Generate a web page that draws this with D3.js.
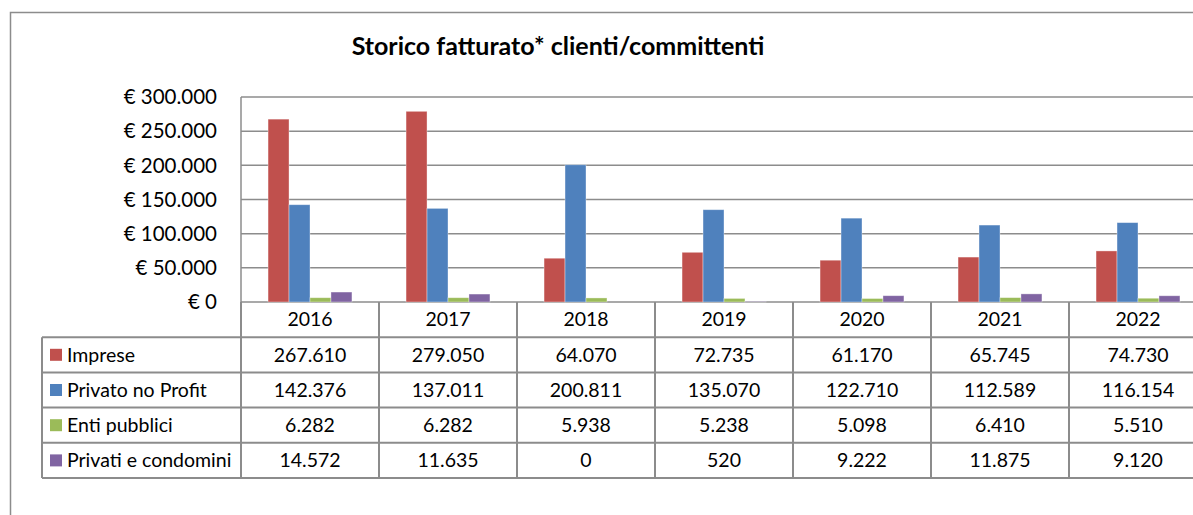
<!DOCTYPE html>
<html>
<head>
<meta charset="utf-8">
<script src="https://cdn.jsdelivr.net/npm/d3@7"></script>
<style>
  body { margin: 0; background: #fff; }
  svg { display: block; font-family: Lato, "Liberation Sans", sans-serif; }
</style>
</head>
<body>
<div id="chart"></div>
<script>
const years = ['2016', '2017', '2018', '2019', '2020', '2021', '2022']
const seriesNames = ['Imprese', 'Privato no Profit', 'Enti pubblici', 'Privati e condomini']
const imprese = [267610, 279050, 64070, 72735, 61170, 65745, 74730]
const privatoNoProfit = [142376, 137011, 200811, 135070, 122710, 112589, 116154]
const entiPubblici = [6282, 6282, 5938, 5238, 5098, 6410, 5510]
const privatiCondomini = [14572, 11635, 0, 520, 9222, 11875, 9120]
const yTicks = [0, 50000, 100000, 150000, 200000, 250000, 300000]

const seriesValues = [imprese, privatoNoProfit, entiPubblici, privatiCondomini]
const colors = ['#C0504D', '#4F81BD', '#9BBB59', '#8064A2']

const width = 1193, height = 515
const plotLeft = 241, plotTop = 97, plotBottom = 302
const colW = 138
const rowH = 35.2
const tableLeft = 42
const gridColor = '#8c8c8c'
const tableFont = 19.5

const it = d3.formatLocale({ decimal: ',', thousands: '.', grouping: [3], currency: ['€ ', ''] })
const fmt = it.format(',d')

const svg = d3.select('#chart').append('svg')
    .attr('width', width)
    .attr('height', height)

// outer chart frame
svg.append('rect')
    .attr('x', 10.5).attr('y', 12.5)
    .attr('width', 1300).attr('height', 600)
    .attr('fill', 'none')
    .attr('stroke', '#8c8c8c')
    .attr('stroke-width', 1.5)

svg.append('text')
    .attr('x', 558).attr('y', 55)
    .attr('text-anchor', 'middle')
    .attr('font-size', 25)
    .attr('font-weight', 'bold')
    .text('Storico fatturato* clienti/committenti')

const x = d3.scaleBand()
    .domain(years)
    .range([plotLeft, plotLeft + colW * years.length])

const xInner = d3.scaleBand()
    .domain(d3.range(seriesNames.length))
    .range([0, x.bandwidth()])
    .paddingOuter(1.29)

const y = d3.scaleLinear()
    .domain([0, 300000])
    .range([plotBottom, plotTop])

// gridlines
svg.append('g')
    .selectAll('line')
    .data(yTicks)
    .join('line')
    .attr('x1', plotLeft).attr('x2', width + 20)
    .attr('y1', d => y(d)).attr('y2', d => y(d))
    .attr('stroke', gridColor)
    .attr('stroke-width', 1.5)

svg.append('line')
    .attr('x1', plotLeft).attr('x2', plotLeft)
    .attr('y1', plotTop).attr('y2', plotBottom)
    .attr('stroke', gridColor)
    .attr('stroke-width', 1.5)

// y labels
svg.append('g')
    .selectAll('text')
    .data(yTicks)
    .join('text')
    .attr('x', 217)
    .attr('y', d => y(d))
    .attr('dy', '0.35em')
    .attr('text-anchor', 'end')
    .attr('font-size', 20.5)
    .text(d => '€ ' + fmt(d))

// bars
const groups = svg.append('g')
    .selectAll('g')
    .data(seriesValues)
    .join('g')
    .attr('fill', (d, i) => colors[i])

groups.each(function (vals, si) {
    d3.select(this).selectAll('rect')
        .data(vals)
        .join('rect')
        .attr('x', (d, i) => x(years[i]) + xInner(si))
        .attr('width', xInner.bandwidth())
        .attr('y', d => y(d))
        .attr('height', d => y(0) - y(d))
        .attr('stroke', 'rgba(255,255,255,0.45)')
        .attr('stroke-width', 0.8)
})

// data table
const table = svg.append('g')
const rowY = i => plotBottom + rowH * i   // row 0 = year header
const tableRight = plotLeft + colW * years.length

// horizontal lines
table.selectAll('line.h')
    .data(d3.range(1, seriesNames.length + 2))
    .join('line')
    .attr('class', 'h')
    .attr('x1', tableLeft).attr('x2', tableRight)
    .attr('y1', d => rowY(d)).attr('y2', d => rowY(d))
    .attr('stroke', gridColor)
    .attr('stroke-width', 2)

// vertical lines
table.selectAll('line.v')
    .data(d3.range(years.length + 1))
    .join('line')
    .attr('class', 'v')
    .attr('x1', d => plotLeft + d * colW).attr('x2', d => plotLeft + d * colW)
    .attr('y1', plotBottom).attr('y2', rowY(seriesNames.length + 1))
    .attr('stroke', gridColor)
    .attr('stroke-width', 2)

table.append('line')
    .attr('x1', tableLeft).attr('x2', tableLeft)
    .attr('y1', rowY(1)).attr('y2', rowY(seriesNames.length + 1))
    .attr('stroke', gridColor)
    .attr('stroke-width', 2)

// year header
table.selectAll('text.year')
    .data(years)
    .join('text')
    .attr('class', 'year')
    .attr('x', d => x(d) + x.bandwidth() / 2)
    .attr('y', rowY(0) + rowH / 2)
    .attr('dy', '0.35em')
    .attr('text-anchor', 'middle')
    .attr('font-size', tableFont)
    .text(d => d)

// legend keys + names
const rows = table.selectAll('g.row')
    .data(seriesNames)
    .join('g')
    .attr('class', 'row')
    .attr('transform', (d, i) => `translate(0,${rowY(i + 1)})`)

rows.append('rect')
    .attr('x', 50).attr('y', rowH / 2 - 6)
    .attr('width', 12).attr('height', 12)
    .attr('fill', (d, i) => colors[i])

rows.append('text')
    .attr('x', 67)
    .attr('y', rowH / 2)
    .attr('dy', '0.35em')
    .attr('font-size', tableFont)
    .text(d => d)

rows.each(function (name, si) {
    d3.select(this).selectAll('text.val')
        .data(seriesValues[si])
        .join('text')
        .attr('class', 'val')
        .attr('x', (d, i) => x(years[i]) + x.bandwidth() / 2)
        .attr('y', rowH / 2)
        .attr('dy', '0.35em')
        .attr('text-anchor', 'middle')
        .attr('font-size', tableFont)
        .text(d => fmt(d))
})
</script>
</body>
</html>
